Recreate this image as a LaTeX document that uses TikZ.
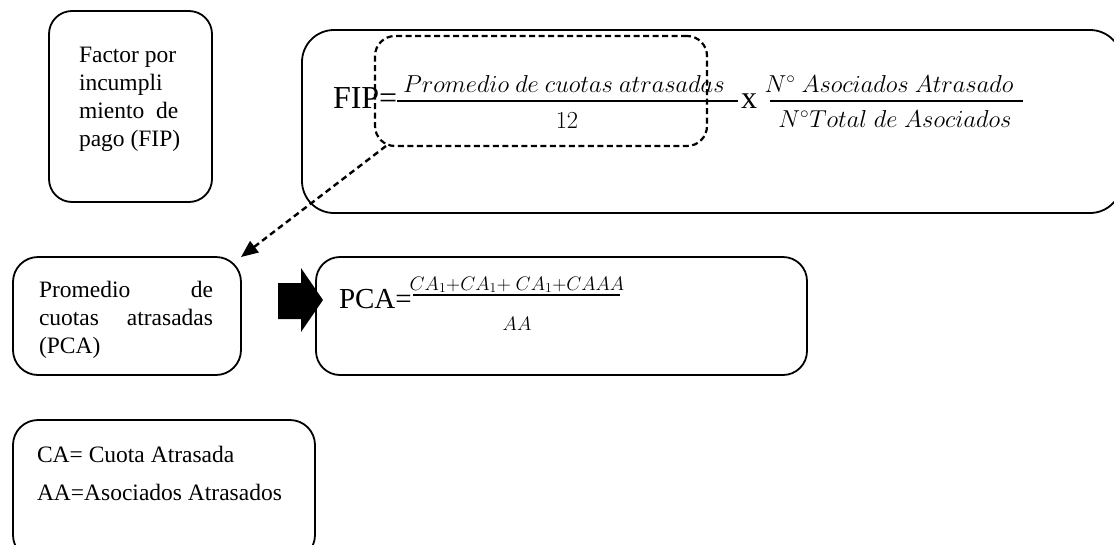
\RequirePackage{fix-cm}
\documentclass[tikz,border=0pt]{standalone}
\usepackage{fontspec}
\setmainfont{Liberation Serif}
\usetikzlibrary{arrows.meta,calc}

% font sizes (1pt = 1 unit of the drawing)
\newcommand\txtfont{\fontsize{23.5}{28}\selectfont}
\newcommand\legfont{\fontsize{23.5}{38}\selectfont}
\newcommand\eqbig{\fontsize{32}{36}\selectfont}
\newcommand\eqmid{\fontsize{29}{34}\selectfont}
\newcommand\fmfont{\fontsize{24.5}{29}\selectfont}
\newcommand\fmsmall{\fontsize{19.5}{24}\selectfont}

\tikzset{
  every node/.style={inner sep=0pt, outer sep=0pt},
  roundbox/.style={draw, line width=1.8pt, rounded corners=#1},
  dashbox/.style={draw, line width=2.2pt, dash pattern=on 6pt off 3.5pt, rounded corners=#1},
  fracbar/.style={line width=#1},
  dasharrow/.style={line width=2.4pt, dash pattern=on 6pt off 4pt,
    -{Triangle[length=17pt,width=14pt]}},
  blockarrow/.style={fill=black, draw=none}
}

\begin{document}
\begin{tikzpicture}[x=1pt,y=-1pt]
\clip (0,0) rectangle (1114,544);

% boxes
\node[roundbox=23pt, minimum width=163pt, minimum height=191pt] (fipl) at (130.5,106.5) {};
\node[roundbox=32pt, minimum width=820pt, minimum height=183pt] (fipf) at (712,121.5) {};
\node[dashbox=20pt, minimum width=332pt, minimum height=110pt] (dbox) at (541,91) {};
\node[roundbox=25pt, minimum width=228pt, minimum height=118pt] (pcal) at (127,316) {};
\node[roundbox=24pt, minimum width=491pt, minimum height=118pt] (pcaf) at (561.5,316) {};
\node[roundbox=25pt, minimum width=302pt, minimum height=140pt] (leg) at (164,490) {};

% label texts
\node[anchor=north west, align=left, font=\txtfont] (fipltxt) at (79,47)
  {Factor por\\incumpli\\miento\ \ de\\pago (FIP)};
\node[anchor=north west, text width=174pt, align=justify, font=\txtfont] (pcaltxt) at (39,281)
  {\hyphenpenalty=10000 Promedio de cuotas atrasadas (PCA)};
\node[anchor=north west, align=left, font=\legfont] (legtxt) at (37,446)
  {CA= Cuota Atrasada\\AA=Asociados Atrasados};

% FIP formula
\node[anchor=base west, font=\eqbig] (fipeq) at (333,108) {FIP=};
\node[anchor=base, font=\fmfont] (num1) at (564,92) {$Promedio\ de\ cuotas\ atrasadas$};
\draw[fracbar=2.8pt] (397,101) -- (738,101);
\node[anchor=base, font=\fmfont] (den1) at (567,128) {$12$};
\node[anchor=base west, font=\eqbig] (times) at (741,108) {x};
\node[anchor=base, font=\fmfont] (num2) at (889,92) {$N^{\circ}\ Asociados\ Atrasado$};
\draw[fracbar=2.8pt] (770,101) -- (1023,101);
\node[anchor=base, font=\fmfont] (den2) at (895,127) {$N^{\circ}Total\;de\;Asociados$};

% PCA formula
\node[anchor=base west, font=\eqmid] (pcaeq) at (339,308) {PCA=};
\node[anchor=base, font=\fmsmall] (num3) at (517,290)
  {$CA_{1}{+}CA_{1}{+}\ CA_{1}{+}CAAA$};
\draw[fracbar=2pt] (413,295) -- (620,295);
\node[anchor=base, font=\fmsmall] (den3) at (517,330) {$AA$};

% connectors
\draw[dasharrow] ([xshift=11pt]dbox.south west) -- (pcal.north east);
\fill[blockarrow] (278,283) -- (301,283) -- (301,268) -- (323,300)
  -- (301,332) -- (301,319) -- (278,319) -- cycle;
\end{tikzpicture}
\end{document}
